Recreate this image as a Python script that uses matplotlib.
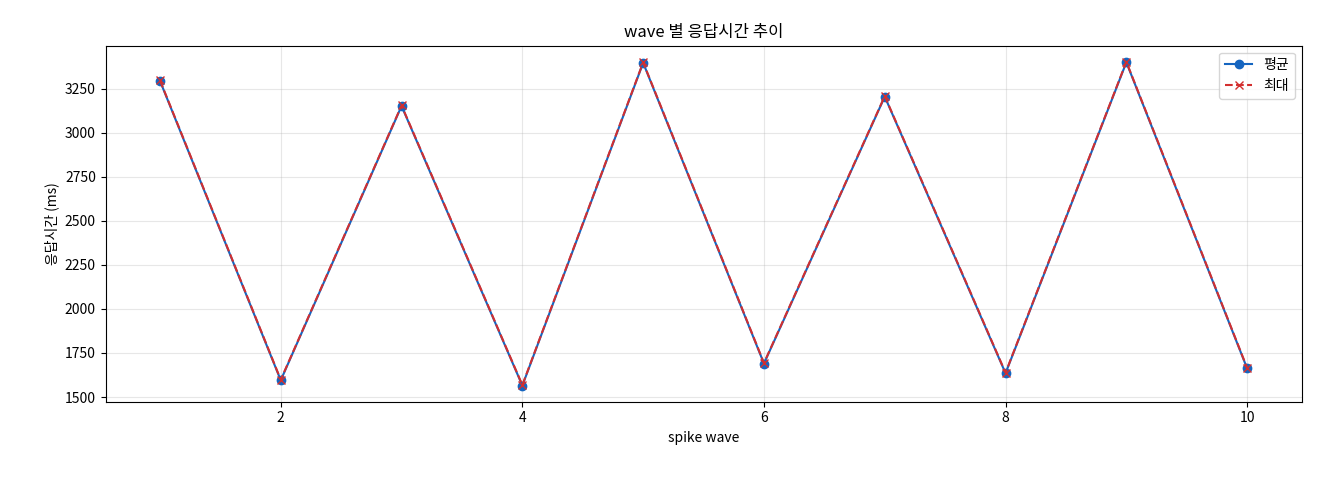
import matplotlib
matplotlib.use("Agg")
import matplotlib.pyplot as plt

plt.rcParams['font.family'] = ['Noto Sans CJK KR', 'DejaVu Sans']

waves = [1, 2, 3, 4, 5, 6, 7, 8, 9, 10]
avg_ms = [3295, 1595, 3152, 1565, 3397, 1690, 3205, 1635, 3400, 1662]
max_ms = [3298, 1598, 3155, 1568, 3400, 1693, 3208, 1638, 3403, 1665]

fig, ax = plt.subplots(figsize=(13.2, 4.8), dpi=100)
ax.plot(waves, avg_ms, marker='o', color='#1565C0', label='평균')
ax.plot(waves, max_ms, marker='x', linestyle='--', color='#D32F2F', label='최대')
ax.set_title('wave 별 응답시간 추이')
ax.set_xlabel('spike wave')
ax.set_ylabel('응답시간 (ms)')
ax.grid(alpha=0.3)
ax.legend(loc='upper right')
fig.subplots_adjust(left=0.08, right=0.986, top=0.905, bottom=0.163)
fig.savefig('out.png')
